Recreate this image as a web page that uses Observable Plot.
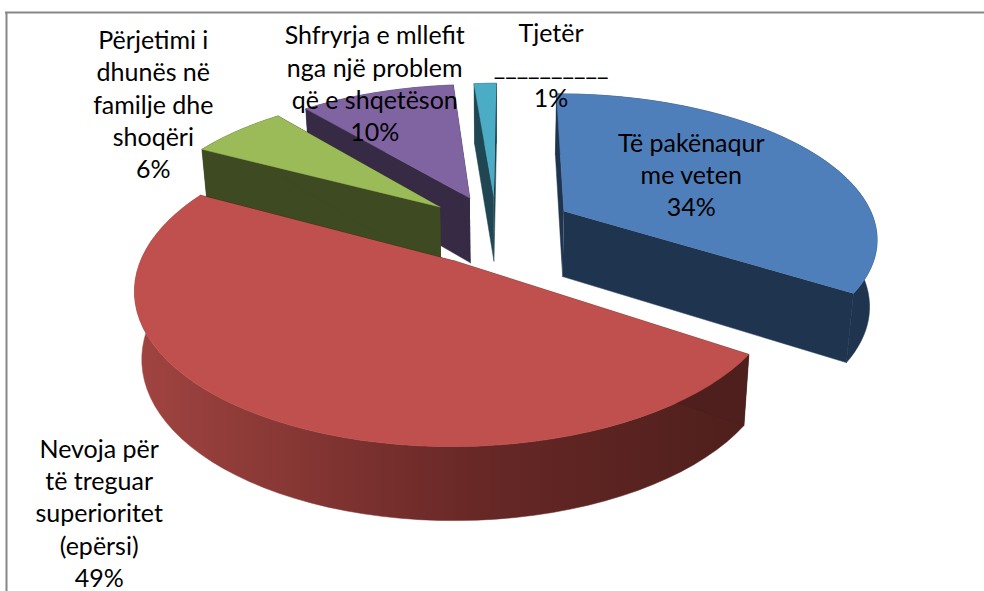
<!DOCTYPE html>
<html><head><meta charset="utf-8">
<script src="https://cdn.jsdelivr.net/npm/d3@7"></script>
<script src="https://cdn.jsdelivr.net/npm/@observablehq/plot@0.6"></script>
<style>html,body{margin:0;background:#fff}svg{display:block}</style>
</head><body><div id="c"></div>
<script>
const categories=["Të pakënaqur\nme veten","Nevoja për\ntë treguar\nsuperioritet\n(epërsi)","Përjetimi i\ndhunës në\nfamilje dhe\nshoqëri","Shfryrja e mllefit\nnga një problem\nqë e shqetëson","Tjetër\n__________"];
const values=[34,48.6,6.2,9.8,1.4];
const percentLabels=["34%","49%","6%","10%","1%"];
const topColors=["#4f7fbb","#bf504d","#9bbb59","#8064a2","#4bacc6"];
const wallColors=["#1f344e","url(#redWall)","#3e4a21","#362a44","#1f4652"];

// Perspective of the pie plane and how far each slice is pulled out
const view={ox:495.75,oy:227.48,ax:307.1,ay:1.49,bx:3.18,by:-141.98,p:-.0149,q:.1689,turn:-.0017,depth:66};
const explode=[.2545,.2593,.2423,.2365,.2317];
// Where each label sits relative to its slice
const labelPlace=[{r:.5,dx:1,dy:-6},{r:1.35,dx:-75,dy:30},{r:1.1,dx:-66,dy:-21},{r:1,dx:-2,dy:-10},{r:1.3,dx:68,dy:9}];

const total=d3.sum(values);
const spans=[];{let s=0;for(const v of values){const t=v/total*2*Math.PI;spans.push([s,s+t]);s+=t}}
function proj(i,th,r){
  const m=(spans[i][0]+spans[i][1])/2+view.turn,a=th+view.turn,e=explode[i];
  const X=e*Math.sin(m)+r*Math.sin(a),Y=e*Math.cos(m)+r*Math.cos(a);
  const w=1+view.p*X+view.q*Y;
  return [view.ox+(view.ax*X+view.bx*Y)/w,view.oy+(view.ay*X+view.by*Y)/w,w];
}
const arc=(i,r)=>d3.range(0,61).map(k=>proj(i,spans[i][0]+(spans[i][1]-spans[i][0])*k/60,r));
const bottom=q=>[q[0]+(500-q[0])*.02,q[1]+view.depth/Math.sqrt(q[2])];
const xy=q=>({x:q[0],y:q[1]});
const polys=[];
for(const i of [4,3,2,1,0]){
  const A=arc(i,1),c=proj(i,0,0),B=A.map(bottom),side=i==1?"#4e1f1c":wallColors[i];
  polys.push({pts:[...A,...B.slice().reverse()],fill:wallColors[i]});
  polys.push({pts:[c,A[0],bottom(A[0]),bottom(c)],fill:side});
  polys.push({pts:[c,A[60],bottom(A[60]),bottom(c)],fill:side});
  polys.push({pts:[c,...A],fill:topColors[i]});
}
const labels=values.map((v,i)=>{
  const q=proj(i,(spans[i][0]+spans[i][1])/2,labelPlace[i].r);
  return {x:q[0]+labelPlace[i].dx,y:q[1]+labelPlace[i].dy,text:categories[i]+"\n"+percentLabels[i]};
});
const defs=()=>{const d=d3.create("svg:defs");const g=d.append("linearGradient").attr("id","redWall");
 [[0,"#a14441"],[.55,"#682826"],[1,"#4e1f1c"]].forEach(([o,c])=>g.append("stop").attr("offset",o).attr("stop-color",c));return d.node()};
const chart=Plot.plot({width:984,height:591,margin:0,
 x:{domain:[0,984],range:[0,984],axis:null},y:{domain:[0,591],range:[0,591],axis:null},
 marks:[defs,
  Plot.ruleY([12],{x1:5,x2:984,stroke:"#868686",strokeWidth:2}),
  Plot.ruleX([6],{y1:12,y2:591,stroke:"#868686",strokeWidth:2}),
  ...polys.map(p=>Plot.line(p.pts.map(xy),{x:"x",y:"y",fill:p.fill,stroke:p.fill,strokeWidth:.5})),
  Plot.text(labels,{x:"x",y:"y",text:"text",fontFamily:"Lato",fontSize:25,lineHeight:32.25/25,fill:"#000",textAnchor:"middle"})
 ]});
document.getElementById("c").append(chart);
</script></body></html>
